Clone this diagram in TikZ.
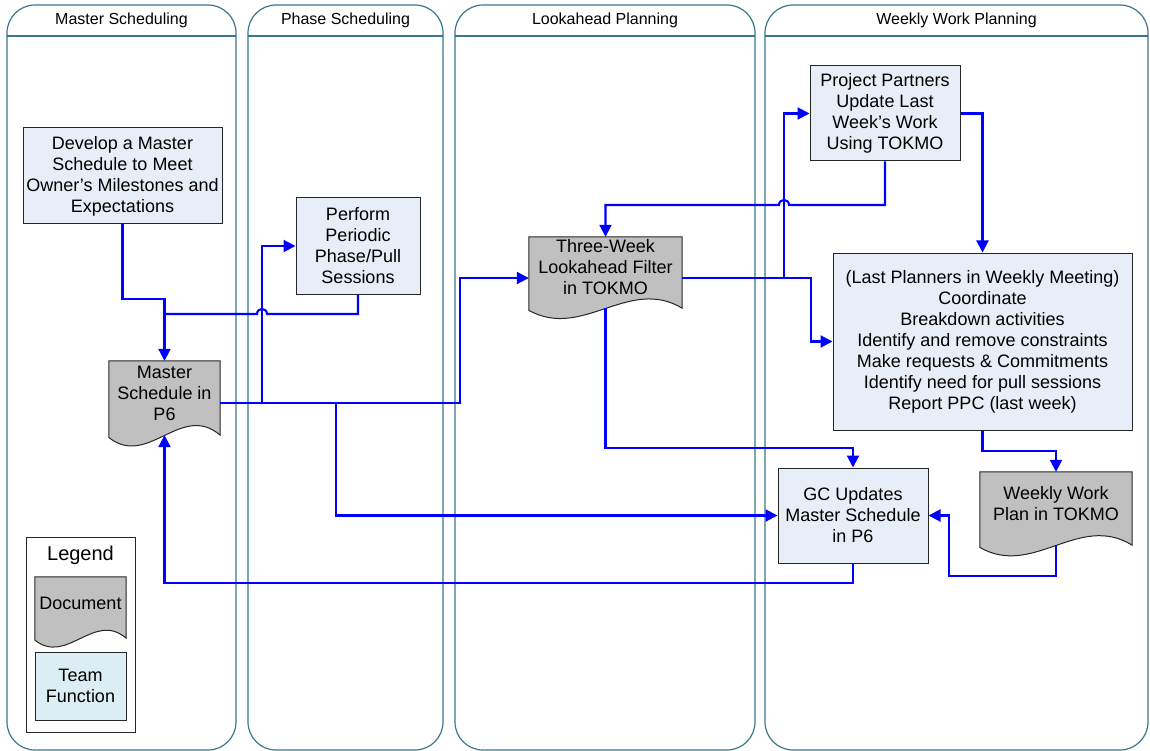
\documentclass[tikz,border=0pt]{standalone}
\usepackage{fontspec}
\setmainfont{Liberation Sans}
\usetikzlibrary{arrows.meta,calc}
\definecolor{lanec}{RGB}{55,120,138}
\definecolor{taskc}{RGB}{232,238,248}
\definecolor{docc}{RGB}{192,192,192}
\definecolor{teamc}{RGB}{218,238,243}
\definecolor{flowc}{RGB}{0,0,255}
\tikzset{
 task/.style={draw=black!85, line width=1pt, fill=taskc, align=center, font=\fontsize{18}{21}\selectfont, inner sep=0pt},
 docnode/.style={draw=none, inner sep=0pt},
 docshape/.style={draw=black!85, line width=1pt, fill=docc},
 doctext/.style={align=center, font=\fontsize{18}{21}\selectfont, inner sep=0pt},
 flow/.style={draw=flowc, line width=2.1pt, -{Triangle[length=12pt,width=12pt]}},
 lane/.style={draw=lanec, line width=1.2pt, rounded corners=28pt},
 laneline/.style={draw=lanec, line width=1.2pt},
 lanehead/.style={font=\fontsize{16}{19}\selectfont, inner sep=0pt},
}
\newcommand\docpath[1]{%
 \draw[docshape] let \p1=(#1.south west), \p2=(#1.north east) in
 (\x1,\y2) -- (\x2,\y2) -- (\x2,\y1)
 .. controls ({\x2-0.35*(\x2-\x1)},{\y1+0.45*(\y2-\y1)}) and ({\x1+0.35*(\x2-\x1)},{\y1-0.45*(\y2-\y1)}) ..
 (\x1,{\y1-0.03*(\y2-\y1)}) -- cycle;}
\newcommand\swimlane[4]{%
 \draw[lane] (#1,380) -- (#1,5) -- (#2,5) -- (#2,750) -- (#1,750) -- cycle;
 \draw[laneline] (#1,36) -- (#2,36);
 \node[lanehead] (#4) at ({(#1+#2)/2},20) {#3};}
\begin{document}
\begin{tikzpicture}[x=1pt,y=-1pt]
\useasboundingbox (0,0) rectangle (1150,751);
% lanes
\swimlane{7}{236}{Master Scheduling}{h1}
\swimlane{248}{443}{Phase Scheduling}{h2}
\swimlane{455}{755}{Lookahead Planning}{h3}
\swimlane{765}{1148}{Weekly Work Planning}{h4}
% task boxes
\node[task, minimum width=199pt, minimum height=96pt] (dev) at (122.5,176) {Develop a Master\\Schedule to Meet\\Owner’s Milestones and\\Expectations};
\node[task, minimum width=124pt, minimum height=96pt] (perf) at (358,246) {Perform\\Periodic\\Phase/Pull\\Sessions};
\node[task, minimum width=150pt, minimum height=95pt] (pp) at (885,113.5) {Project Partners\\Update Last\\Week’s Work\\Using TOKMO};
\node[task, minimum width=299pt, minimum height=177pt] (lp) at (982.5,341.5) {(Last Planners in Weekly Meeting)\\Coordinate\\Breakdown activities\\Identify and remove constraints\\Make requests \& Commitments\\Identify need for pull sessions\\Report PPC (last week)};
\node[task, minimum width=150pt, minimum height=95pt] (gc) at (853,515.5) {GC Updates\\Master Schedule\\in P6};
% documents
\node[docnode, minimum width=111pt, minimum height=74pt] (ms) at (164.5,398) {};
\docpath{ms}
\node[doctext] (mst) at ([yshift=5pt]ms.center) {Master\\Schedule in\\P6};
\node[docnode, minimum width=153pt, minimum height=71pt] (tw) at (605.5,272.5) {};
\docpath{tw}
\node[doctext] (twt) at ([yshift=5pt]tw.center) {Three-Week\\Lookahead Filter\\in TOKMO};
\node[docnode, minimum width=152pt, minimum height=73pt] (wk) at (1056,508.5) {};
\docpath{wk}
\node[doctext] (wkt) at ([yshift=5pt]wk.center) {Weekly Work\\Plan in TOKMO};
% legend
\node[draw=black!85, line width=1pt, fill=white, minimum width=109pt, minimum height=195pt] (leg) at (80.5,634.5) {};
\node[font=\fontsize{20}{24}\selectfont, inner sep=0pt] (legt) at (80.5,555) {Legend};
\node[docnode, minimum width=91pt, minimum height=61pt] (ldoc) at (80.5,607.5) {};
\docpath{ldoc}
\node[doctext] (ldoct) at ([yshift=4.5pt]ldoc.center) {Document};
\node[task, fill=teamc, minimum width=91pt, minimum height=68pt] (lteam) at (80.5,686) {Team\\Function};
% connectors
\draw[flow] (dev.south) |- (ms.north |- 0,299) -- (ms.north);
\draw[flow,-] (perf.south) -- (perf.south |- 0,314) -- (267,314) .. controls (267,307.3) and (257,307.3) .. (257,314) -- (ms.north |- 0,314);
\draw[flow] (ms.east |- 0,403) -- (262,403) |- (perf.west);
\draw[flow] (ms.east |- 0,403) -- (460,403) |- (tw.west |- 0,278);
\draw[flow] (ms.east |- 0,403) -- (336,403) |- (gc.west);
\draw[flow] (gc.south) |- (ms.south |- 0,583) -- (ms.south);
\draw[flow] (tw.east |- 0,278) -- (784,278) |- (pp.west);
\draw[flow] (tw.east |- 0,278) -- (811,278) |- (lp.west);
\draw[flow] (pp.south) -- (pp.south |- 0,205) -- (789,205) .. controls (789,198.3) and (779,198.3) .. (779,205) -- (tw.north |- 0,205) -- (tw.north);
\draw[flow] (pp.east) -| (lp.north);
\draw[flow] (tw.south) |- (gc.north |- 0,448) -- (gc.north);
\draw[flow] (lp.south) |- (wk.north |- 0,451) -- (wk.north);
\draw[flow] (wk.south) |- (949,576) |- (gc.east);
\end{tikzpicture}
\end{document}
